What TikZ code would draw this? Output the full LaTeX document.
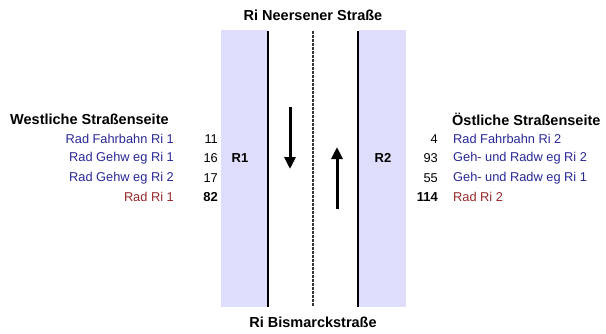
\documentclass[tikz,border=0pt]{standalone}
\usepackage{fontspec}
\setmainfont{Liberation Sans}
\usetikzlibrary{arrows.meta}
\definecolor{bandfill}{RGB}{222,222,252}
\definecolor{labblue}{RGB}{40,40,150}
\definecolor{labred}{RGB}{150,40,40}
\tikzset{
  reg/.style={inner sep=0pt, font=\fontsize{12.8}{14}\selectfont},
  hdr/.style={inner sep=0pt, font=\fontsize{14.5}{16}\selectfont\bfseries},
  bnum/.style={inner sep=0pt, font=\fontsize{13}{15}\selectfont\bfseries},
  band/.style={fill=bandfill, draw=none},
  kerb/.style={line width=2pt, black},
  centre/.style={line width=1.2pt, black!80, dash pattern=on 3pt off 1pt},
  dirarrow/.style={line width=3pt, -{Triangle[width=11pt,length=12pt]}}
}
\begin{document}
\begin{tikzpicture}[x=1pt,y=-1pt]
\useasboundingbox (0,0) rectangle (606,333);
% bands
\path[band] (221,30) rectangle (268,307);
\path[band] (359,30) rectangle (406,307);
% kerbs and centre line
\coordinate (k1t) at (268,31); \coordinate (k1b) at (268,307);
\coordinate (k2t) at (358,31); \coordinate (k2b) at (358,307);
\coordinate (ct) at (313,31); \coordinate (cb) at (313,307);
\draw[kerb] (k1t) -- (k1b);
\draw[kerb] (k2t) -- (k2b);
\draw[centre] (ct) -- (cb);
% arrows
\coordinate (a1s) at (290,107); \coordinate (a1e) at (290,169);
\coordinate (a2s) at (337,209); \coordinate (a2e) at (337,147);
\draw[dirarrow] (a1s) -- (a1e);
\draw[dirarrow] (a2s) -- (a2e);
% titles
\node[hdr] (top) at (313,15) {Ri Neersener Straße};
\node[hdr] (bot) at (313,322) {Ri Bismarckstraße};
\node[hdr, anchor=west] (west) at (10,119) {Westliche Straßenseite};
\node[hdr, anchor=west] (east) at (452,119) {Östliche Straßenseite};
% lane labels
\node[bnum] (r1) at (240,158) {R1};
\node[bnum] (r2) at (383,158) {R2};
% left rows
\node[reg, anchor=east, text=labblue] (l1) at (174,139) {Rad Fahrbahn Ri 1};
\node[reg, anchor=east, text=labblue] (l2) at (174,158) {Rad Gehw eg Ri 1};
\node[reg, anchor=east, text=labblue] (l3) at (174,178) {Rad Gehw eg Ri 2};
\node[reg, anchor=east, text=labred] (l4) at (174,197) {Rad Ri 1};
\node[reg, anchor=east] (n1) at (218,139) {11};
\node[reg, anchor=east] (n2) at (218,158) {16};
\node[reg, anchor=east] (n3) at (218,178) {17};
\node[bnum, anchor=east] (n4) at (218,197) {82};
% right rows
\node[reg, anchor=east] (m1) at (438,139) {4};
\node[reg, anchor=east] (m2) at (438,158) {93};
\node[reg, anchor=east] (m3) at (438,178) {55};
\node[bnum, anchor=east] (m4) at (438,197) {114};
\node[reg, anchor=west, text=labblue] (e1) at (453,139) {Rad Fahrbahn Ri 2};
\node[reg, anchor=west, text=labblue] (e2) at (453,158) {Geh- und Radw eg Ri 2};
\node[reg, anchor=west, text=labblue] (e3) at (453,178) {Geh- und Radw eg Ri 1};
\node[reg, anchor=west, text=labred] (e4) at (453,197) {Rad Ri 2};
\end{tikzpicture}
\end{document}
